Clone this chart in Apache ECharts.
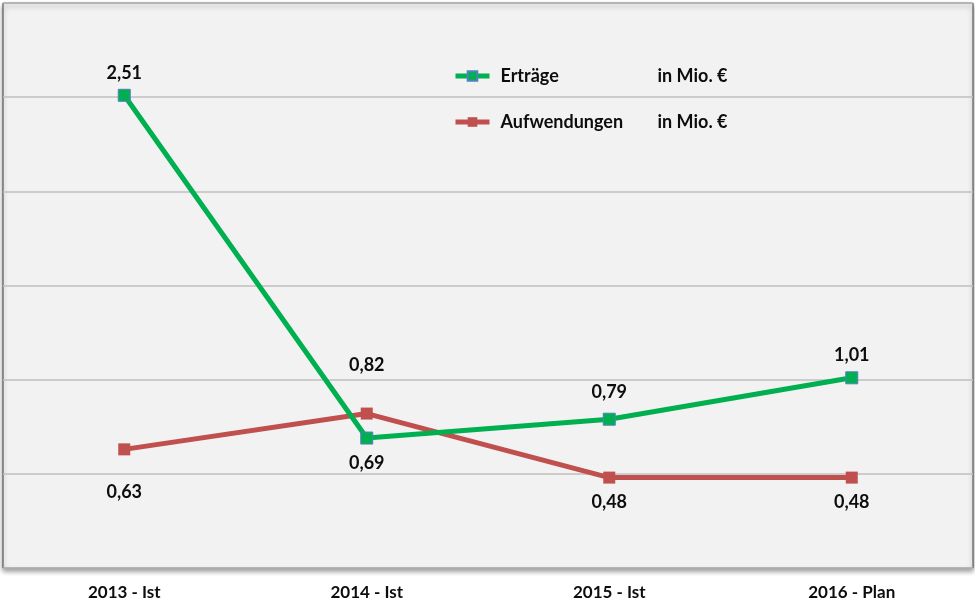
<!DOCTYPE html>
<html>
<head>
<meta charset="utf-8">
<script src="https://cdn.jsdelivr.net/npm/echarts@6/dist/echarts.min.js"></script>
<style>
  html, body { margin: 0; padding: 0; background: #fff; }
  #chart { width: 975px; height: 603px; }
</style>
</head>
<body>
<div id="chart"></div>
<script>
// Daten
const categories = ['2013 - Ist', '2014 - Ist', '2015 - Ist', '2016 - Plan'];
const ertraege = [2.51, 0.69, 0.79, 1.01];
const aufwendungen = [0.63, 0.82, 0.48, 0.48];
// Beschriftung oben/unten je Punkt (wie im Original)
const ertraegeLabelPos = ['top', 'bottom', 'top', 'top'];
const aufwLabelPos = ['bottom', 'top', 'bottom', 'bottom'];
const ertraegeLabelDist = [7, 10, 12, 7];
const aufwLabelDist = [28, 33, 10, 10];

const FONT = 'Lato, "Open Sans", sans-serif';
const fmt = v => v.toFixed(2).replace('.', ',');

function points(values, pos, dist) {
  return values.map((v, i) => ({
    value: v,
    label: { position: pos[i], distance: dist[i] }
  }));
}

const chart = echarts.init(document.getElementById('chart'));

chart.setOption({
  animation: false,
  grid: {
    left: 3, right: 2, top: 3, bottom: 35,
    show: true,
    backgroundColor: '#f2f2f2',
    borderColor: '#404040',
    borderWidth: 1,
    shadowColor: 'rgba(0,0,0,0.4)',
    shadowBlur: 5,
    shadowOffsetY: 3
  },
  legend: {
    orient: 'vertical',
    left: 448,
    top: 62,
    itemWidth: 34,
    itemHeight: 12,
    itemGap: 28,
    lineStyle: { width: 5 },
    data: ['Erträge', 'Aufwendungen'],
    formatter: name => '{a|' + name + '}{b|in Mio. €}',
    textStyle: {
      rich: {
        a: { width: 157, padding: [0, 0, 0, 6], fontFamily: FONT, fontWeight: 'bold', fontSize: 18, color: '#0d0d0d' },
        b: { fontFamily: FONT, fontWeight: 'bold', fontSize: 18, color: '#0d0d0d' }
      }
    }
  },
  xAxis: {
    type: 'category',
    data: categories,
    axisLine: { show: false },
    axisTick: { show: false },
    axisLabel: {
      margin: 16,
      fontFamily: FONT,
      fontWeight: 'bold',
      fontSize: 17,
      color: '#0d0d0d'
    }
  },
  yAxis: {
    type: 'value',
    min: 0,
    max: 3,
    interval: 0.5,
    axisLine: { show: false },
    axisTick: { show: false },
    axisLabel: { show: false },
    splitLine: { lineStyle: { color: '#bfbfbf', width: 1.5 } }
  },
  series: [
    {
      name: 'Erträge',
      type: 'line',
      data: points(ertraege, ertraegeLabelPos, ertraegeLabelDist),
      symbol: 'rect',
      symbolSize: 12,
      lineStyle: { color: '#00b050', width: 5 },
      itemStyle: { color: '#00b050', borderColor: '#4f81bd', borderWidth: 1 },
      label: {
        show: true,
        formatter: p => fmt(p.value),
        fontFamily: FONT,
        fontWeight: 'bold',
        fontSize: 18,
        color: '#0d0d0d'
      },
      z: 3
    },
    {
      name: 'Aufwendungen',
      type: 'line',
      data: points(aufwendungen, aufwLabelPos, aufwLabelDist),
      symbol: 'rect',
      symbolSize: 12,
      lineStyle: { color: '#c0504d', width: 5 },
      itemStyle: { color: '#c0504d' },
      label: {
        show: true,
        formatter: p => fmt(p.value),
        fontFamily: FONT,
        fontWeight: 'bold',
        fontSize: 18,
        color: '#0d0d0d'
      },
      z: 2
    }
  ]
});
</script>
</body>
</html>
